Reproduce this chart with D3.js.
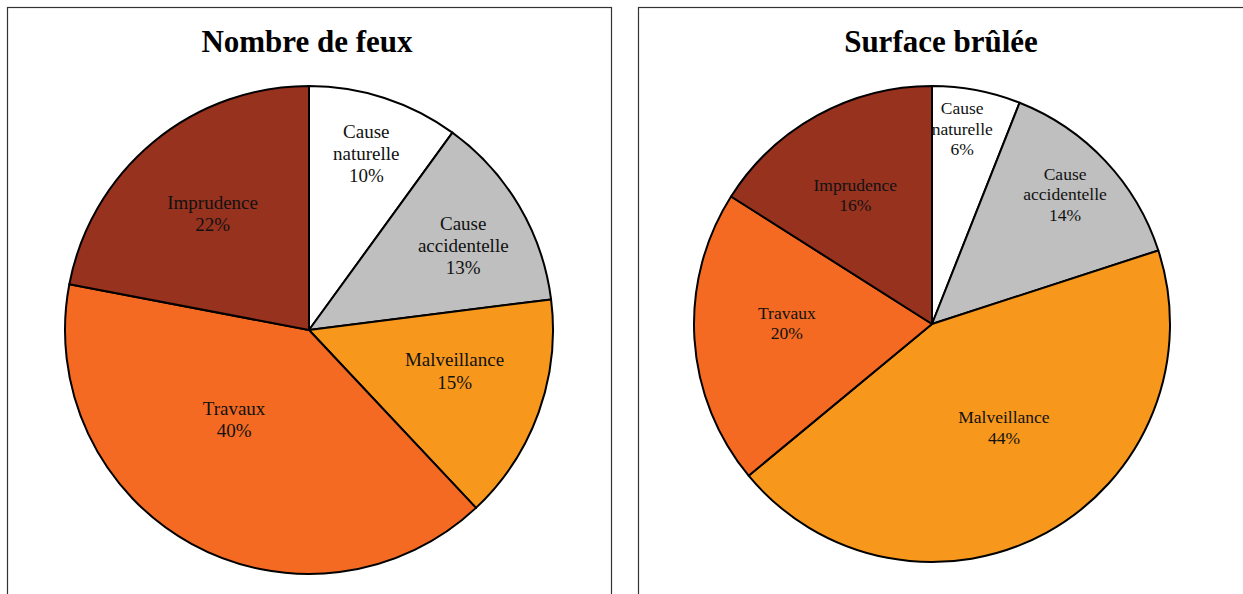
<!DOCTYPE html>
<html>
<head>
<meta charset="utf-8">
<script src="https://cdn.jsdelivr.net/npm/d3@7"></script>
<style>
  body { margin: 0; background: #fff; }
  svg { display: block; }
  .title { font-family: "Liberation Serif", "Times New Roman", serif; font-weight: bold; }
  .lbl { font-family: "Liberation Serif", "Times New Roman", serif; fill: #111; }
</style>
</head>
<body>
<svg id="chart" width="1243" height="594"></svg>
<script>
// categories, in drawing order (clockwise from 12 o'clock)
const causes = ['Cause naturelle', 'Cause accidentelle', 'Malveillance', 'Travaux', 'Imprudence'];
const cause_lines = [['Cause', 'naturelle'], ['Cause', 'accidentelle'], ['Malveillance'], ['Travaux'], ['Imprudence']];

// percentages
const nb_feux = [10, 13, 15, 40, 22];
const surface = [6, 14, 44, 20, 16];

const titles = ['Nombre de feux', 'Surface brûlée'];

const colors = ['#ffffff', '#bfbfbf', '#f7981d', '#f46a22', '#97321f'];

// label placement: [fraction of radius, angle nudge in degrees]
const label_pos_feux = [[0.76, 0], [0.72, 2], [0.62, -4], [0.48, 11], [0.62, 0]];
const label_pos_surf = [[0.83, -2], [0.78, -1], [0.53, -6], [0.61, 4], [0.63, -2]];

const svg = d3.select('#chart');

function draw_panel(px, pw, title, values, label_pos, cx, cy, r, title_size, lbl_size) {
  const g = svg.append('g');

  g.append('rect')
    .attr('x', px + 0.5)
    .attr('y', 7.5)
    .attr('width', pw)
    .attr('height', 700)
    .attr('fill', 'none')
    .attr('stroke', '#333')
    .attr('stroke-width', 1.2);

  g.append('text')
    .attr('class', 'title')
    .attr('x', px + pw / 2 - 2)
    .attr('y', 52)
    .attr('text-anchor', 'middle')
    .style('font-size', title_size + 'px')
    .text(title);

  const pie = d3.pie().sort(null).value((d) => d)(values);
  const arc = d3.arc().innerRadius(0).outerRadius(r);

  const pg = g.append('g').attr('transform', 'translate(' + cx + ',' + cy + ')');

  pg.selectAll('.slice')
    .data(pie)
    .enter()
    .append('path')
      .attr('class', 'slice')
      .attr('d', arc)
      .attr('fill', (d, i) => colors[i])
      .attr('stroke', '#000')
      .attr('stroke-width', 2)
      .attr('stroke-linejoin', 'round');

  const line_h = lbl_size * 1.17;
  pg.selectAll('.lbl')
    .data(pie)
    .enter()
    .append('text')
      .attr('class', 'lbl')
      .attr('text-anchor', 'middle')
      .style('font-size', lbl_size + 'px')
      .each(function(d, i) {
        const lines = cause_lines[i].concat([values[i] + '%']);
        const a = (d.startAngle + d.endAngle) / 2 + label_pos[i][1] * Math.PI / 180;
        const rr = r * label_pos[i][0];
        const x = rr * Math.sin(a);
        const y = -rr * Math.cos(a);
        // block centred on (x, y); cap height ~0.66em
        const y0 = y - (lines.length - 1) * line_h / 2 + lbl_size * 0.33;
        const t = d3.select(this);
        lines.forEach((s, k) => {
          t.append('tspan')
            .attr('x', x)
            .attr('y', y0 + k * line_h)
            .text(s);
        });
      });
}

draw_panel(7, 604, titles[0], nb_feux, label_pos_feux, 309, 330, 244, 31, 19);
draw_panel(638, 610, titles[1], surface, label_pos_surf, 932, 324, 238, 31, 17.5);
</script>
</body>
</html>
